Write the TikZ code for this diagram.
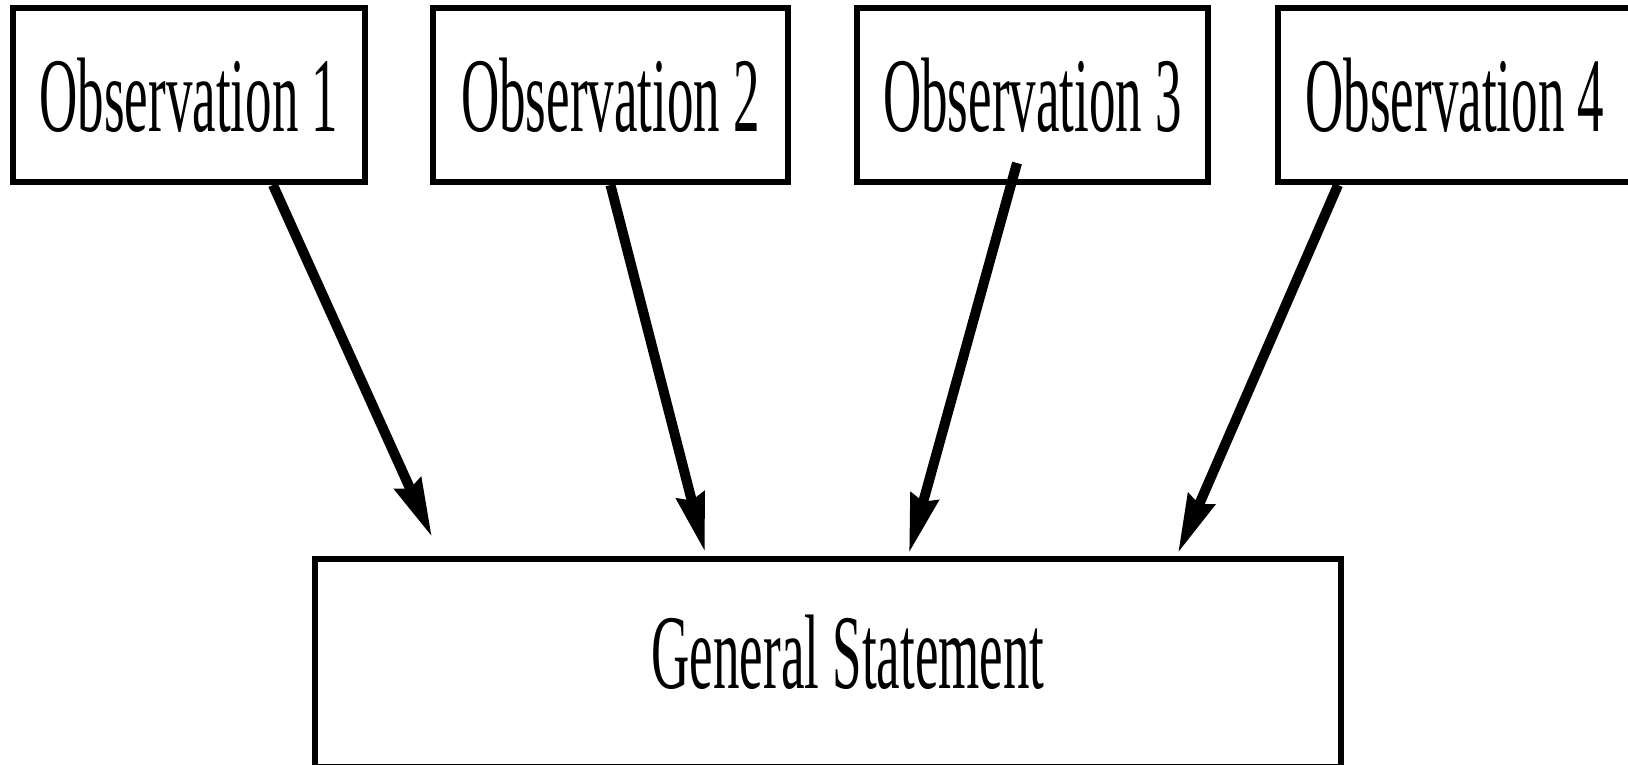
\documentclass[tikz,border=0pt]{standalone}
\usepackage{fontspec}
\setmainfont{Liberation Serif}
\usepackage{graphicx}
\usetikzlibrary{arrows.meta}
\newcommand\sqtext[1]{\scalebox{0.5}[1]{#1}}
\tikzset{
  obsbox/.style={draw=black, line width=6pt, rectangle, inner sep=0pt,
    minimum height=174pt, font=\fontsize{106}{110}\selectfont},
  genbox/.style={draw=black, line width=6pt, rectangle, inner sep=0pt,
    minimum width=1026pt, minimum height=208pt},
  lbl/.style={inner sep=0pt, font=\fontsize{106}{110}\selectfont},
  arr/.style={line width=10pt, draw=black,
    -{Stealth[length=58pt, width=28pt, inset=5pt]}}
}
\begin{document}
\begin{tikzpicture}[x=1pt, y=-1pt]
\path[use as bounding box, clip] (0,0) rectangle (1628,765);
\fill[white] (0,0) rectangle (1628,765);

\node[obsbox, minimum width=352pt] (o1) at (189,95) {\sqtext{Observation 1}};
\node[obsbox, minimum width=355pt] (o2) at (610.5,95) {\sqtext{Observation 2}};
\node[obsbox, minimum width=351pt] (o3) at (1032.5,95) {\sqtext{Observation 3}};
\node[obsbox, minimum width=354pt] (o4) at (1455,95) {\sqtext{Observation 4}};

\node[genbox] (gs) at (828,663) {};
\node[lbl] (gst) at ([xshift=20pt, yshift=11pt]gs.center) {\sqtext{General Statement}};

\draw[arr] ([xshift=84pt]o1.south) -- ([xshift=-396pt, yshift=19pt]gs.north);
\draw[arr] ([xshift=0pt]o2.south) -- ([xshift=-123pt, yshift=4pt]gs.north);
\draw[arr] ([xshift=-15.5pt, yshift=22pt]o3.south) -- ([xshift=81pt, yshift=3pt]gs.north);
\draw[arr] ([xshift=-117pt]o4.south) -- ([xshift=350pt, yshift=3pt]gs.north);
\end{tikzpicture}
\end{document}
